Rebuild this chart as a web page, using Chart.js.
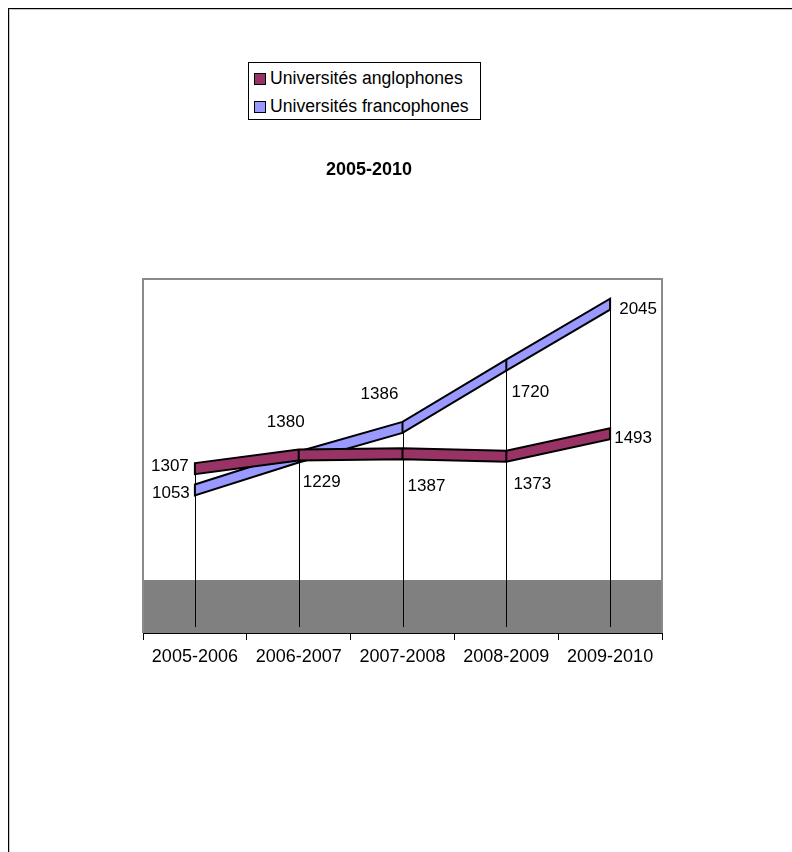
<!DOCTYPE html>
<html>
<head>
<meta charset="utf-8">
<script src="https://cdn.jsdelivr.net/npm/chart.js@4/dist/chart.umd.min.js"></script>
<style>
  body { margin: 0; background: #fff; font-family: "Liberation Sans", Arial, sans-serif; }
  #wrap { position: relative; width: 792px; height: 852px; overflow: hidden; }
  #frame { position: absolute; left: 8px; top: 8px; width: 900px; height: 900px;
           border-left: 1px solid #000; border-top: 1px solid #000;
           box-shadow: inset 1px 1px 0 #c8c8c8; }
  canvas { position: absolute; left: 0; top: 0; }
  #title { position: absolute; left: 300px; width: 138px; top: 159px; text-align: center;
           font-weight: bold; font-size: 18px; color: #000; }
  #legend { position: absolute; left: 248px; top: 62px; width: 231px; height: 56px;
            border: 1px solid #000; background: #fff; }
  .item { position: absolute; left: 5px; font-size: 17.6px; color: #000; line-height: 20px; white-space: nowrap; }
  .item span { display: inline-block; width: 10px; height: 10px; border: 1px solid #000;
               margin-right: 4px; vertical-align: -1px; }
</style>
</head>
<body>
<div id="wrap">
  <div id="frame"></div>
  <canvas id="chart" width="792" height="852"></canvas>
  <div id="title">2005-2010</div>
  <div id="legend"></div>
</div>
<script>
// Data
const categories = ['2005-2006', '2006-2007', '2007-2008', '2008-2009', '2009-2010'];
const anglophones = [1307, 1380, 1386, 1373, 1493];
const francophones = [1053, 1229, 1387, 1720, 2045];
const seriesNames = ['Universités anglophones', 'Universités francophones'];
const seriesColors = ['#993366', '#9999ff'];

// Style: ribbon depth, floor height, and where each value label sits relative to its point
const DEPTH = 11;
const FLOOR_H = 53;
const labelOffsets = [
    [[-25, 3], [-13, -27], [-23, -54], [26, 34], [23, 10]],
    [[-24, 9], [23, 31], [24, 64], [24, 33], [28, 11]]
];

// Legend
const legend = document.getElementById('legend');
seriesNames.forEach((name, i) => {
    const row = document.createElement('div');
    row.className = 'item';
    row.style.top = (i === 0 ? 5 : 33) + 'px';
    row.innerHTML = `<span style="background:${seriesColors[i]}"></span>${name}`;
    legend.appendChild(row);
});

const ribbonPlugin = {
    id: 'ribbons',
    beforeDatasetsDraw(chart) {
        const ctx = chart.ctx;
        const a = chart.chartArea;
        ctx.save();

        // floor
        ctx.fillStyle = '#808080';
        ctx.fillRect(a.left, a.bottom - FLOOR_H, a.right - a.left, FLOOR_H);

        // walls
        ctx.strokeStyle = '#8a8a8a';
        ctx.lineWidth = 2;
        ctx.beginPath();
        ctx.moveTo(a.left, a.bottom);
        ctx.lineTo(a.left, a.top);
        ctx.lineTo(a.right, a.top);
        ctx.lineTo(a.right, a.bottom);
        ctx.stroke();

        const metas = chart.data.datasets.map((d, i) => chart.getDatasetMeta(i));

        // drop lines
        ctx.strokeStyle = '#000';
        ctx.lineWidth = 1;
        categories.forEach((c, i) => {
            const x = Math.round(metas[0].data[i].x) + 0.5;
            const top = Math.min(...metas.map(m => m.data[i].y));
            ctx.beginPath();
            ctx.moveTo(x, top);
            ctx.lineTo(x, a.bottom - 6);
            ctx.stroke();
        });

        // ribbons, back series first
        for (let s = metas.length - 1; s >= 0; s--) {
            const pts = metas[s].data;
            ctx.beginPath();
            pts.forEach((p, i) => i ? ctx.lineTo(p.x, p.y) : ctx.moveTo(p.x, p.y));
            for (let i = pts.length - 1; i >= 0; i--) ctx.lineTo(pts[i].x, pts[i].y + DEPTH);
            ctx.closePath();
            ctx.fillStyle = seriesColors[s];
            ctx.fill();
            ctx.strokeStyle = '#000';
            ctx.lineWidth = 2;
            ctx.lineJoin = 'miter';
            ctx.stroke();
            ctx.beginPath();
            for (let i = 1; i < pts.length - 1; i++) {
                ctx.moveTo(pts[i].x, pts[i].y);
                ctx.lineTo(pts[i].x, pts[i].y + DEPTH);
            }
            ctx.stroke();
        }
        ctx.restore();
    },
    afterDatasetsDraw(chart) {
        const ctx = chart.ctx;
        ctx.save();
        ctx.font = '17px "Liberation Sans", Arial, sans-serif';
        ctx.fillStyle = '#000';
        ctx.textAlign = 'center';
        ctx.textBaseline = 'middle';
        chart.data.datasets.forEach((ds, s) => {
            chart.getDatasetMeta(s).data.forEach((p, i) => {
                const off = labelOffsets[s][i];
                ctx.fillText(String(ds.data[i]), p.x + off[0], p.y + off[1]);
            });
        });
        ctx.restore();
    }
};

new Chart(document.getElementById('chart'), {
    type: 'line',
    data: {
        labels: categories,
        datasets: [
            { label: seriesNames[0], data: anglophones, yAxisID: 'yA', showLine: false, pointRadius: 0 },
            { label: seriesNames[1], data: francophones, yAxisID: 'yF', showLine: false, pointRadius: 0 }
        ]
    },
    options: {
        responsive: false,
        animation: false,
        devicePixelRatio: 1,
        layout: { padding: { left: 143, top: 279, right: 130, bottom: 179 } },
        plugins: { legend: { display: false }, title: { display: false }, tooltip: { enabled: false } },
        scales: {
            x: {
                offset: true,
                afterFit: s => { s.height = 40; },
                grid: { offset: true, drawOnChartArea: false, drawTicks: true, tickLength: 7, color: '#000' },
                border: { display: true, color: '#000', width: 1 },
                ticks: { color: '#000', padding: 6, maxRotation: 0, autoSkip: false,
                         font: { family: '"Liberation Sans", Arial, sans-serif', size: 18 } }
            },
            // the front series sits lower on the page, as in the 3-D original
            yA: { display: false, min: 400, max: 2290 },
            yF: { display: false, min: 260, max: 2150 }
        }
    },
    plugins: [ribbonPlugin]
});
</script>
</body>
</html>
